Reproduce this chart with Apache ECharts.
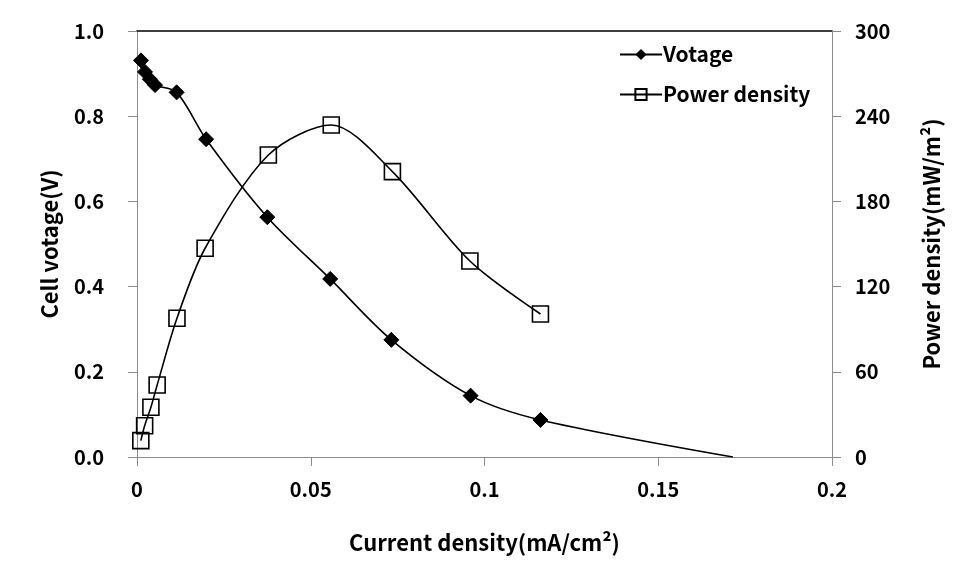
<!DOCTYPE html>
<html>
<head>
<meta charset="utf-8">
<script src="https://cdn.jsdelivr.net/npm/echarts@6/dist/echarts.min.js"></script>
<style>html,body{margin:0;padding:0;background:#fff}#c{width:976px;height:587px}</style>
</head>
<body>
<div id="c"></div>
<script>
var currentV = [0.00115, 0.0023, 0.0037, 0.0052, 0.0114, 0.0199, 0.0375, 0.0556, 0.0732, 0.096, 0.1161, 0.1715];
var voltage  = [0.931, 0.904, 0.887, 0.873, 0.856, 0.746, 0.563, 0.418, 0.275, 0.144, 0.087, 0];
var currentP = [0.0011, 0.0022, 0.004, 0.0058, 0.0115, 0.0196, 0.0378, 0.0559, 0.0735, 0.0958, 0.1161];
var power    = [11.5, 22, 35, 50.7, 97.7, 147, 212.7, 233.8, 201, 138, 100.7];
var xTicks = ['0', '0.05', '0.1', '0.15', '0.2'];

var FONT = '"Noto Sans CJK KR", "Noto Sans", sans-serif';
var chart = echarts.init(document.getElementById('c'));

var vData = currentV.map(function (x, i) {
  var d = {value: [x, voltage[i]]};
  if (i === currentV.length - 1) d.symbol = 'none';
  return d;
});
var pData = currentP.map(function (x, i) { return [x, power[i]]; });

var axisLine = {show: true, onZero: false, lineStyle: {color: '#8c8c8c', width: 1}};
var labelStyle = {color: '#000', fontFamily: FONT, fontWeight: 'bold', fontSize: 20};
var titleStyle = {color: '#000', fontFamily: FONT, fontWeight: 'bold', fontSize: 22};

chart.setOption({
  animation: false,
  backgroundColor: '#fff',
  grid: {left: 137, right: 144, top: 31, bottom: 130, containLabel: false},
  legend: {
    orient: 'vertical', left: 614, top: 39, itemWidth: 42, itemHeight: 14, itemGap: 19,
    textStyle: {color: '#000', fontFamily: FONT, fontWeight: 'bold', fontSize: 21, padding: [0, 0, 0, -4]},
    data: ['Votage', 'Power density']
  },
  xAxis: [{
    type: 'value', min: 0, max: 0.2, interval: 0.05,
    name: 'Current density(mA/cm²)', nameLocation: 'middle', nameGap: 75,
    nameTextStyle: titleStyle,
    axisLine: axisLine, splitLine: {show: false},
    axisTick: {show: true, inside: false, length: 9, lineStyle: {color: '#8c8c8c'}},
    axisLabel: Object.assign({margin: 22, formatter: function (v) { return xTicks[Math.round(v / 0.05)]; }}, labelStyle)
  }, {
    type: 'value', position: 'top', min: 0, max: 0.2,
    axisLine: {show: true, onZero: false, lineStyle: {color: '#000', width: 1.5}},
    axisTick: {show: false}, axisLabel: {show: false}, splitLine: {show: false}
  }],
  yAxis: [{
    type: 'value', min: 0, max: 1, interval: 0.2, position: 'left',
    name: 'Cell votage(V)', nameLocation: 'middle', nameGap: 76, nameRotate: 90,
    nameTextStyle: titleStyle,
    axisLine: axisLine, splitLine: {show: false},
    axisTick: {show: true, inside: false, length: 9, lineStyle: {color: '#8c8c8c'}},
    axisLabel: Object.assign({margin: 33, formatter: function (v) { return v.toFixed(1); }}, labelStyle)
  }, {
    type: 'value', min: 0, max: 300, interval: 60, position: 'right',
    name: 'Power density(mW/m²)', nameLocation: 'middle', nameGap: 89, nameRotate: 90,
    nameTextStyle: titleStyle,
    axisLine: axisLine, splitLine: {show: false},
    axisTick: {show: true, inside: false, length: 9, lineStyle: {color: '#8c8c8c'}},
    axisLabel: Object.assign({margin: 23}, labelStyle)
  }],
  series: [{
    name: 'Votage', type: 'line', xAxisIndex: 0, yAxisIndex: 0,
    data: vData, smooth: 0.3,
    symbol: 'diamond', symbolSize: 15,
    lineStyle: {color: '#000', width: 1.6},
    itemStyle: {color: '#000', borderColor: '#000'}
  }, {
    name: 'Power density', type: 'line', xAxisIndex: 0, yAxisIndex: 1,
    data: pData, smooth: 0.3,
    symbol: 'rect', symbolSize: 16,
    lineStyle: {color: '#000', width: 1.6},
    itemStyle: {color: 'rgba(255,255,255,0)', borderColor: '#000', borderWidth: 1.6}
  }]
});
</script>
</body>
</html>
